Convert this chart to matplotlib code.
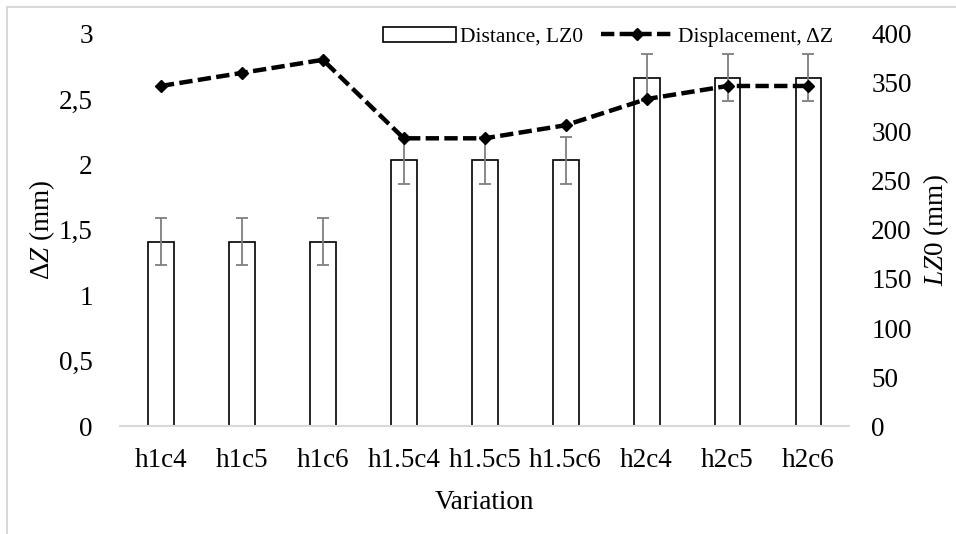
import matplotlib
matplotlib.use("Agg")
import matplotlib.pyplot as plt
import numpy as np
from matplotlib.ticker import FuncFormatter

plt.rcParams['font.family'] = ['Liberation Serif', 'DejaVu Serif']
plt.rcParams['mathtext.fontset'] = 'custom'
plt.rcParams['mathtext.rm'] = 'Liberation Serif'
plt.rcParams['mathtext.it'] = 'Liberation Serif:italic'

variations = ['h1c4', 'h1c5', 'h1c6', 'h1.5c4', 'h1.5c5', 'h1.5c6', 'h2c4', 'h2c5', 'h2c6']
distance_lz0 = [188, 188, 188, 271, 271, 271, 355, 355, 355]
distance_err = [24, 24, 24, 24, 24, 24, 24, 24, 24]
displacement_dz = [2.6, 2.7, 2.8, 2.2, 2.2, 2.3, 2.5, 2.6, 2.6]

fig = plt.figure(figsize=(9.56, 5.34), dpi=100)
ax = fig.add_axes([0.126, 0.202, 0.762, 0.735])
ax2 = ax.twinx()

x = np.arange(len(variations))

# bars go on the right axis, line on the left one
ax2.bar(x, distance_lz0, 0.32, color='white', edgecolor='black', linewidth=1.2,
        yerr=distance_err, error_kw=dict(ecolor='#7f7f7f', elinewidth=1.3, capsize=4, capthick=1.3),
        label='Distance, LZ0')
ax.plot(x, displacement_dz, color='black', linestyle=(0, (3, 1.2)), linewidth=3.2,
        marker='D', markersize=6.5, label='Displacement, \u0394Z', zorder=5)

# line must sit above the bars
ax.set_zorder(ax2.get_zorder() + 1)
ax.patch.set_visible(False)

ax.set_xlim(-0.5, 8.5)
ax.set_ylim(0, 3)
ax2.set_ylim(0, 400)
ax.set_yticks(np.arange(0, 3.01, 0.5))
ax2.set_yticks(np.arange(0, 401, 50))
ax.yaxis.set_major_formatter(FuncFormatter(lambda v, p: ('%g' % v).replace('.', ',')))

ax.set_xticks(x)
ax.set_xticklabels(variations)

for a in (ax, ax2):
    for s in a.spines.values():
        s.set_visible(False)
    a.tick_params(length=0, labelsize=19.5)
ax.spines['bottom'].set_visible(True)
ax.spines['bottom'].set_color('#d9d9d9')
ax.spines['bottom'].set_linewidth(1.5)
ax.tick_params(axis='x', pad=16)
ax.tick_params(axis='y', pad=20)
ax2.tick_params(axis='y', pad=16)

ax.set_xlabel('Variation', fontsize=19.5, labelpad=12)
ax.set_ylabel(r'$\mathit{\Delta Z}$ (mm)', fontsize=19.5, labelpad=1)
ax2.set_ylabel(r'$\mathit{LZ0}$ (mm)', fontsize=19.5, labelpad=7)

h1, l1 = ax2.get_legend_handles_labels()
h2, l2 = ax.get_legend_handles_labels()
ax.legend(h1 + h2, l1 + l2, ncol=2, frameon=False, fontsize=15.5,
          loc='upper right', bbox_to_anchor=(0.99, 1.04), handlelength=3.4,
          columnspacing=0.8, handletextpad=0.2, borderaxespad=0)

# light grey frame of the chart area
fig.add_artist(plt.Line2D([0.007, 1], [0.987, 0.987], color='#d9d9d9', linewidth=1.5))
fig.add_artist(plt.Line2D([0.007, 0.007], [0, 0.987], color='#d9d9d9', linewidth=1.5))

fig.savefig('out.png', dpi=100)
